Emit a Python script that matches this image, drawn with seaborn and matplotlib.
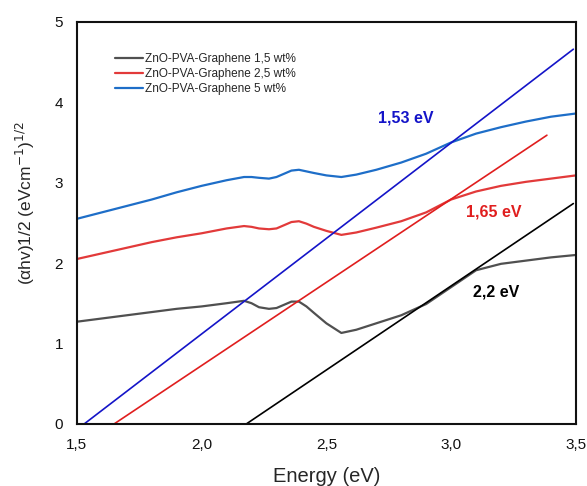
import numpy as np
import pandas as pd
import matplotlib
matplotlib.use("Agg")
import matplotlib.pyplot as plt
import seaborn as sns

# ---- data ----
energy = [1.5, 1.6, 1.7, 1.8, 1.9, 2.0, 2.1, 2.17, 2.2, 2.23, 2.27, 2.3, 2.33, 2.36, 2.39, 2.42, 2.45,
          2.5, 2.56, 2.62, 2.7, 2.8, 2.9, 3.0, 3.1, 3.2, 3.3, 3.4, 3.5]
y_15 = [1.27, 1.31, 1.35, 1.39, 1.43, 1.46, 1.50, 1.53, 1.50, 1.45, 1.43, 1.44, 1.48, 1.52, 1.52, 1.46, 1.38,
        1.25, 1.13, 1.17, 1.25, 1.35, 1.49, 1.70, 1.91, 1.99, 2.03, 2.07, 2.10]
y_25 = [2.05, 2.12, 2.19, 2.26, 2.32, 2.37, 2.43, 2.46, 2.45, 2.43, 2.42, 2.43, 2.47, 2.51, 2.52, 2.49, 2.45,
        2.40, 2.35, 2.38, 2.44, 2.52, 2.63, 2.79, 2.89, 2.96, 3.01, 3.05, 3.09]
y_5 = [2.55, 2.63, 2.71, 2.79, 2.88, 2.96, 3.03, 3.07, 3.07, 3.06, 3.05, 3.07, 3.11, 3.15, 3.16, 3.14, 3.12,
       3.09, 3.07, 3.10, 3.16, 3.25, 3.36, 3.50, 3.61, 3.69, 3.76, 3.82, 3.86]
series_names = ["ZnO-PVA-Graphene 1,5 wt%", "ZnO-PVA-Graphene 2,5 wt%", "ZnO-PVA-Graphene 5 wt%"]

# tangent (Tauc) lines: endpoints
tan_x_15 = [2.18, 3.49]
tan_y_15 = [0.0, 2.74]
tan_x_25 = [1.65, 3.384]
tan_y_25 = [0.0, 3.59]
tan_x_5 = [1.53, 3.49]
tan_y_5 = [0.0, 4.66]

gap_labels = ["2,2 eV", "1,65 eV", "1,53 eV"]
gap_label_x = [3.18, 3.17, 2.82]
gap_label_y = [1.64, 2.64, 3.80]

x_ticks = [1.5, 2.0, 2.5, 3.0, 3.5]
x_tick_labels = ["1,5", "2,0", "2,5", "3,0", "3,5"]
y_ticks = [0, 1, 2, 3, 4, 5]

# ---- style ----
sns.set_theme(style="white")
plt.rcParams["font.family"] = ["Liberation Sans", "DejaVu Sans"]

curve_colors = ["#505050", "#e23a3a", "#1e6ec8"]
line_colors = ["#000000", "#e01e1e", "#1414c8"]

df = pd.DataFrame({
    "Energy": energy * 3,
    "y": y_15 + y_25 + y_5,
    "Sample": [series_names[0]] * len(energy) + [series_names[1]] * len(energy) + [series_names[2]] * len(energy),
})

fig = plt.figure(figsize=(5.87, 4.86), dpi=100)
ax = fig.add_axes([0.131, 0.128, 0.85, 0.827])

sns.lineplot(data=df, x="Energy", y="y", hue="Sample", palette=curve_colors,
             linewidth=1.6, ax=ax, estimator=None, sort=False)

for tx, ty, c in zip([tan_x_15, tan_x_25, tan_x_5], [tan_y_15, tan_y_25, tan_y_5], line_colors):
    sns.lineplot(x=tx, y=ty, color=c, linewidth=1.2, ax=ax, legend=False)

for lab, lx, ly, c in zip(gap_labels, gap_label_x, gap_label_y, line_colors):
    ax.text(lx, ly, lab, color=c, fontsize=11.5, fontweight="bold", ha="center", va="center")

ax.set_xlim(1.5, 3.5)
ax.set_ylim(0, 5)
ax.set_xticks(x_ticks)
ax.set_xticklabels(x_tick_labels)
ax.set_yticks(y_ticks)
ax.tick_params(axis="both", length=0, labelsize=11, pad=10, colors="#111111")
ax.set_xlabel("Energy (eV)", fontsize=14.5, labelpad=11)
ax.set_ylabel(r"(αhv)1/2 (eVcm$^{-1}$)$^{1/2}$", fontsize=12.5)
ax.yaxis.set_label_coords(-0.08, 0.55)

for s in ax.spines.values():
    s.set_visible(True)
    s.set_color("#111111")
    s.set_linewidth(1.5)

leg = ax.legend(loc="upper left", bbox_to_anchor=(0.055, 0.948), frameon=False, fontsize=8.5,
                handlelength=2.4, handletextpad=0.15, labelspacing=0.25, title=None)
for line in leg.get_lines():
    line.set_linewidth(1.6)

fig.savefig("out.png", dpi=100)
